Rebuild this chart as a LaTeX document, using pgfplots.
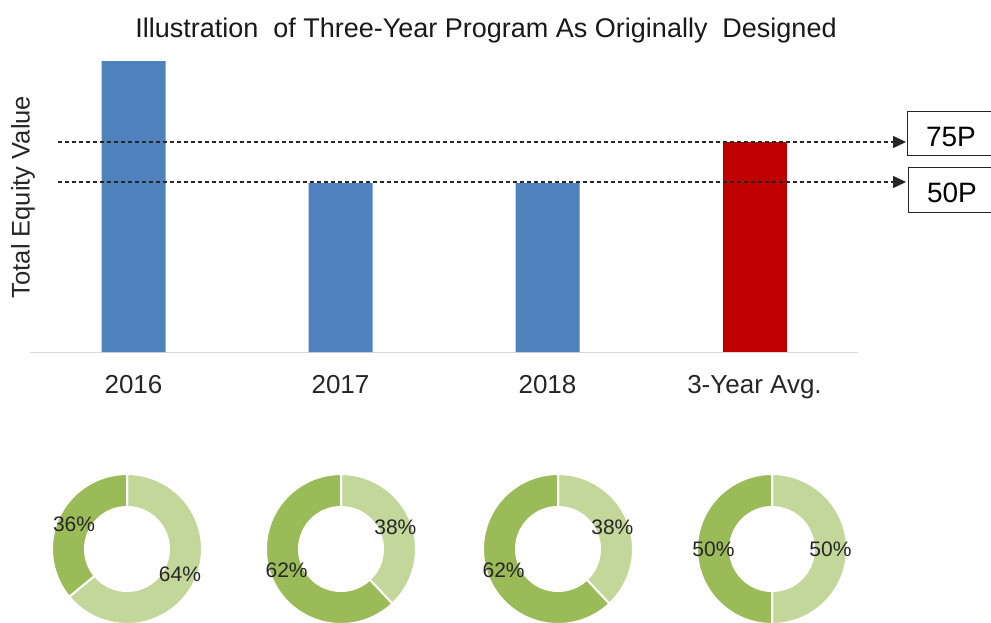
\documentclass[border=0pt]{standalone}
\usepackage{fontspec}
\setmainfont{Liberation Sans}
\usepackage{pgfplots}
\pgfplotsset{compat=1.18}
\usetikzlibrary{arrows.meta}

\definecolor{barblue}{HTML}{4F81BD}
\definecolor{barred}{HTML}{C00000}
\definecolor{lightgreen}{HTML}{C4D79B}
\definecolor{darkgreen}{HTML}{9BBB59}
\definecolor{baseline}{HTML}{D9D9D9}

% donut: centre x, light share, dark share (light starts at 12 o'clock, clockwise)
\newcommand\donut[3]{%
  \filldraw[fill=lightgreen, draw=white, line width=2bp, shift={(axis cs:#1,-549)}]
    (90:75bp) arc[start angle=90, end angle={90-3.6*#2}, radius=75bp]
    -- ({90-3.6*#2}:42bp) arc[start angle={90-3.6*#2}, end angle=90, radius=42bp] -- cycle;
  \filldraw[fill=darkgreen, draw=white, line width=2bp, shift={(axis cs:#1,-549)}]
    ({90-3.6*#2}:75bp) arc[start angle={90-3.6*#2}, end angle=-270, radius=75bp]
    -- (-270:42bp) arc[start angle=-270, end angle={90-3.6*#2}, radius=42bp] -- cycle;
  \node[font=\fontsize{21bp}{24bp}\selectfont, text=black!85]
    at ([shift={({90-1.8*#2}:58.5bp)}]axis cs:#1,-549) {#2\%};
  \node[font=\fontsize{21bp}{24bp}\selectfont, text=black!85]
    at ([shift={({90-3.6*#2-1.8*#3}:58.5bp)}]axis cs:#1,-549) {#3\%};
}

\begin{document}
\begin{tikzpicture}
\useasboundingbox (0,0) rectangle (991bp,-623bp);
\clip (0,0) rectangle (991bp,-623bp);

\node[anchor=base, font=\fontsize{27bp}{32bp}\selectfont, text=black!90]
  at (486bp,-37bp) {Illustration\ \ of Three-Year Program As Originally\ \ Designed};
\node[rotate=90, font=\fontsize{25.5bp}{30bp}\selectfont, text=black!85]
  at (23bp,-197bp) {Total Equity Value};

\begin{axis}[
    at={(30bp,-352bp)}, anchor=south west,
    scale only axis, width=828bp, height=312bp,
    xmin=-0.5, xmax=3.5, ymin=0, ymax=312,
    ybar, bar width=64bp, bar shift=0pt,
    axis x line*=bottom, axis y line=none,
    x axis line style={draw=baseline, line width=1bp},
    xtick={0,1,2,3},
    xticklabels={2016,2017,2018,3-Year Avg.},
    major tick length=0pt,
    xticklabel style={anchor=base, yshift=-41bp, text=black!85,
      font=\fontsize{26bp}{30bp}\selectfont},
    clip=false,
  ]
  \addplot[fill=barblue, draw=none] coordinates {(0,291) (1,169) (2,169)};
  \addplot[fill=barred, draw=none] coordinates {(3,209.7)};
  % 75th and 50th percentile reference lines
  \addplot[sharp plot, black!85, line width=1.2bp, dash pattern=on 4bp off 3bp,
    -{Triangle[length=13bp,width=12bp]}] coordinates {(-0.365,210) (3.732,210)};
  \addplot[sharp plot, black!85, line width=1.2bp, dash pattern=on 4bp off 3bp,
    -{Triangle[length=13bp,width=12bp]}] coordinates {(-0.365,170) (3.732,170)};
\end{axis}

\draw[line width=1bp, black!85] (907bp,-111bp) rectangle (1000bp,-155bp);
\draw[line width=1bp, black!85] (908bp,-167bp) rectangle (1000bp,-212bp);
\node[anchor=base, font=\fontsize{28bp}{32bp}\selectfont] at (951bp,-146bp) {75P};
\node[anchor=base, font=\fontsize{28bp}{32bp}\selectfont] at (952bp,-202bp) {50P};

\begin{axis}[
    at={(0bp,0bp)}, anchor=north west,
    scale only axis, width=991bp, height=623bp,
    xmin=0, xmax=991, ymin=-623, ymax=0,
    hide axis, clip=false,
  ]
  \donut{127}{64}{36}
  \donut{341}{38}{62}
  \donut{558}{38}{62}
  \donut{772}{50}{50}
\end{axis}
\end{tikzpicture}
\end{document}
